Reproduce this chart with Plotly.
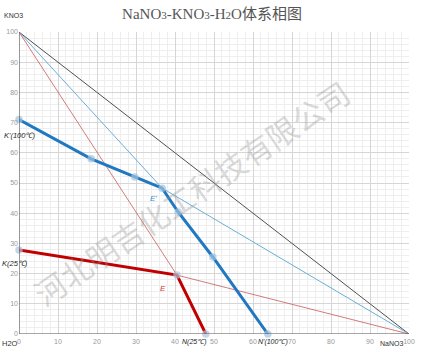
import plotly.graph_objects as go

# ---- data (mass %) ----
tie_black_x = [0, 100]
tie_black_y = [100, 0]

# 100 °C solubility curve K' - E' - N'
curve100_x = [0, 18.5, 29.7, 36.7, 40.8, 49.7, 63.8]
curve100_y = [71, 58, 52, 48.3, 40.4, 25.5, 0]

# 25 °C solubility curve K - E - N
curve25_x = [0, 40.5, 47.9]
curve25_y = [27.8, 19.5, 0]

# thin tie lines through eutonic points
tie100_x = [0, 36.7, 100]
tie100_y = [100, 48.3, 0]
tie25_x = [0, 40.5, 100]
tie25_y = [100, 19.5, 0]

tick_vals = [0, 10, 20, 30, 40, 50, 60, 70, 80, 90, 100]

title_text = "NaNO<span style='font-size:11px'>3</span>-KNO<span style='font-size:11px'>3</span>-H<span style='font-size:11px'>2</span>O体系相图"

fig = go.Figure()

fig.add_trace(go.Scatter(x=tie_black_x, y=tie_black_y, mode="lines",
                         line=dict(color="#505050", width=1), hoverinfo="skip", cliponaxis=False))
fig.add_trace(go.Scatter(x=tie100_x, y=tie100_y, mode="lines",
                         line=dict(color="#6aaed8", width=1), hoverinfo="skip", cliponaxis=False))
fig.add_trace(go.Scatter(x=tie25_x, y=tie25_y, mode="lines",
                         line=dict(color="#c85a5a", width=0.8), hoverinfo="skip", cliponaxis=False))
fig.add_trace(go.Scatter(x=curve25_x, y=curve25_y, mode="lines+markers",
                         line=dict(color="#c00000", width=3),
                         marker=dict(size=7.5, color="rgba(175,195,220,0.7)",
                                     line=dict(width=0)),
                         cliponaxis=False))
fig.add_trace(go.Scatter(x=curve100_x, y=curve100_y, mode="lines+markers",
                         line=dict(color="#1f78c1", width=3),
                         marker=dict(size=7.5, color="rgba(160,195,225,0.7)",
                                     line=dict(width=0)),
                         cliponaxis=False))

def ann(text, x, y, size=7, color="#333333", italic=False, xanchor="center"):
    t = f"<i>{text}</i>" if italic else text
    fig.add_annotation(text=t, x=x, y=y, xref="paper", yref="paper",
                       showarrow=False, xanchor=xanchor, yanchor="middle",
                       font=dict(size=size, color=color, family="Liberation Sans"))

ann("KNO3", -0.013, 1.053, size=7, color="#333")
ann("H2O", -0.024, -0.033, size=7.5, color="#333")
ann("NaNO3", 0.954, -0.03, size=7, color="#333")
ann("K'(100℃)", -0.044, 0.657, size=7.5, color="#222", italic=True, xanchor="left")
ann("K(25℃)", -0.049, 0.235, size=7.5, color="#222", italic=True, xanchor="left")
ann("N(25℃)", 0.449, -0.028, size=7, color="#222", italic=True)
ann("N'(100℃)", 0.65, -0.028, size=7, color="#222", italic=True)
ann("E'", 0.344, 0.45, size=8, color="#3a8fc8", italic=True)
ann("E", 0.369, 0.152, size=8, color="#c84040", italic=True)

# watermark
fig.add_annotation(text="河北明吉化工科技有限公司", x=0.44, y=0.47, xref="paper", yref="paper",
                   showarrow=False, textangle=-34,
                   font=dict(size=31, color="rgba(150,150,150,0.36)", family="Noto Sans CJK SC"))

axis_common = dict(range=[0, 100], tickvals=tick_vals, showgrid=True,
                   gridcolor="#d6d6d6", gridwidth=1, zeroline=False,
                   tickfont=dict(size=7, color="#999999", family="Liberation Sans"),
                   ticks="", showline=False, automargin=False,
                   minor=dict(dtick=2, showgrid=True, gridcolor="#eeeeee", gridwidth=1))

fig.update_xaxes(**axis_common)
fig.update_yaxes(**axis_common)
fig.update_xaxes(ticklabelstandoff=2)

# axis lines at x=0 and y=0
fig.add_shape(type="line", xref="x", yref="y", x0=0, y0=0, x1=100, y1=0,
              line=dict(color="#555555", width=1.2), layer="above")
fig.add_shape(type="line", xref="x", yref="y", x0=0, y0=0, x1=0, y1=100,
              line=dict(color="#555555", width=1.2), layer="above")

fig.update_layout(
    width=424, height=356,
    margin=dict(l=19, r=15, t=32, b=22, autoexpand=False),
    paper_bgcolor="white", plot_bgcolor="white",
    showlegend=False,
    title=dict(text=title_text, x=0.5, xanchor="center", y=0.962, yanchor="middle",
               font=dict(size=15, color="#555555", family="Liberation Serif, Noto Sans CJK SC")),
)

fig.write_html("out.html", config={"displayModeBar": False},
               post_script="document.body.style.margin='0';document.body.style.overflow='hidden';")
